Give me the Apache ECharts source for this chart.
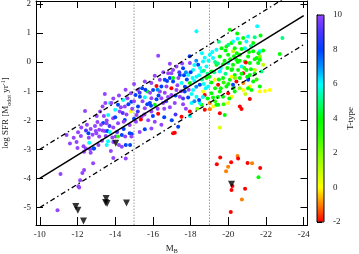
<!DOCTYPE html>
<html><head><meta charset="utf-8">
<script src="https://cdn.jsdelivr.net/npm/echarts@6/dist/echarts.min.js"></script>
<style>html,body{margin:0;padding:0;background:#fff}#c{width:359px;height:254px}</style>
</head><body><div id="c"></div>
<script>
// ---------- data ----------
const xTicks = [-10, -12, -14, -16, -18, -20, -22, -24];
const yTicks = [-5, -4, -3, -2, -1, 0, 1, 2];
const tTicks = [-2, 0, 2, 4, 6, 8, 10];
const colorStops = ['#ff0000','#ff8000','#ffff00','#c0ff00','#80ff00','#30ff00','#00ff00','#00ff80','#00ffff','#0090ff','#0040ff','#4a34ff','#9444ff'];
// [M_B, log SFR, T-type]
const galaxies = [
[-13.45,-1.10,10],[-13.73,-1.41,6],[-13.33,-1.53,10],[-12.40,-1.68,10],[-13.02,-1.85,10],[-13.06,-2.06,10],[-13.36,-2.09,8],[-13.55,-2.01,10],[-12.93,-2.20,10],[-13.15,-2.33,10],[-13.45,-2.37,10],[-13.59,-2.37,8],[-13.71,-2.40,6],[-12.03,-2.41,10],[-12.58,-2.45,8],[-11.42,-2.51,10],[-12.18,-2.54,10],[-13.50,-2.54,10],[-13.15,-2.56,10],[-12.62,-2.77,6],[-13.55,-2.85,6],[-12.85,-2.97,8],[-12.32,-2.89,10],
[-12.97,-2.37,10],[-13.33,-2.35,10],[-13.85,-2.59,10],[-14.03,-2.56,10],[-14.15,-2.56,3],[-14.35,-2.51,8],[-14.53,-2.56,10],[-14.77,-2.45,8],[-14.88,-2.47,8],[-12.44,-2.97,10],[-12.67,-3.00,10],[-12.88,-2.97,8],[-12.35,-3.08,10],[-12.70,-3.12,10],[-13.11,-2.85,10],[-13.62,-2.72,6],[-13.77,-3.06,10],[-14.35,-2.91,10],[-14.56,-2.85,8],[-14.79,-2.85,8],[-14.56,-3.31,10],[-12.83,-3.48,10],[-12.35,-3.71,10],[-12.26,-3.81,10],[-11.10,-3.85,10],[-12.14,-4.06,10],[-12.05,-4.27,10],[-12.09,-4.31,10],[-10.94,-5.09,10],
[-16.28,0.22,10],[-16.90,-0.06,10],[-16.81,-0.38,10],[-17.07,-0.27,10],[-16.10,-0.47,10],[-15.57,-0.67,10],[-16.37,-0.61,10],[-16.63,-0.61,8],[-16.90,-0.55,8],[-17.07,-0.55,4],[-15.92,-0.72,10],[-16.19,-0.82,-2],[-16.45,-0.84,8],[-16.72,-0.84,10],[-16.98,-0.90,-2],[-15.71,-1.01,4],[-15.21,-0.96,10],[-15.43,-0.90,8],[-16.01,-0.96,8],[-16.37,-1.01,10],[-16.63,-1.05,10],[-14.83,-1.07,10],[-15.08,-1.13,8],[-15.31,-1.19,8],[-15.57,-1.21,6],[-15.92,-1.24,10],[-16.19,-1.28,8],[-16.45,-1.24,10],[-14.42,-1.30,6],[-14.65,-1.24,10],[-14.86,-1.36,8],[-15.84,-1.41,8],[-16.10,-1.47,4],[-16.54,-1.41,10],[-13.48,-1.41,10],[-13.80,-1.41,10],[-14.15,-1.47,8],[-14.51,-1.53,10],[-15.21,-1.53,8],[-15.57,-1.59,10],[-15.92,-1.70,10],[-14.83,-1.70,0],[-14.00,-1.64,6],[-14.24,-1.70,10],[-15.13,-1.82,10],[-15.40,-1.88,10],[-13.63,-1.82,6],[-13.89,-1.93,10],[-14.51,-1.99,8],[-15.36,-1.97,-2],[-16.28,-1.78,-2],[-13.54,-2.10,10],[-14.15,-2.10,10],[-14.77,-2.16,10],[-15.92,-2.28,10],[-15.57,-2.31,8],[-14.86,-2.56,10],[-17.07,-2.45,-2],
[-18.31,1.06,6],[-20.08,1.11,4],[-19.37,0.42,6],[-19.64,0.48,4],[-19.90,0.54,4],[-20.17,0.66,4],[-19.02,0.25,6],[-18.66,0.02,6],[-19.19,0.14,6],[-19.55,0.19,4],[-19.99,0.25,4],[-20.25,0.37,1],[-17.96,-0.03,10],[-18.40,-0.09,8],[-18.84,-0.15,6],[-19.37,-0.09,4],[-19.72,-0.07,4],[-19.99,-0.03,6],[-17.25,-0.15,10],[-17.60,-0.21,8],[-18.13,-0.27,6],[-18.58,-0.32,6],[-19.11,-0.32,4],[-19.55,-0.32,6],[-20.17,-0.27,4],[-16.98,-0.38,10],[-17.43,-0.44,8],[-17.87,-0.44,6],[-18.31,-0.50,6],[-18.84,-0.55,4],[-19.28,-0.61,0],[-19.72,-0.55,4],[-20.08,-0.61,4],[-17.07,-0.67,8],[-17.52,-0.72,6],[-17.96,-0.72,4],[-18.49,-0.78,8],[-18.93,-0.84,6],[-19.46,-0.78,-2],[-19.90,-0.84,4],[-20.25,-0.90,4],[-17.25,-0.96,10],[-17.69,-1.01,8],[-18.13,-0.96,6],[-18.66,-1.01,0],[-19.11,-1.07,4],[-19.55,-1.01,4],[-19.99,-1.07,-2],[-16.98,-1.13,10],[-17.43,-1.19,10],[-17.87,-1.22,8],[-18.31,-1.19,6],[-18.75,-1.13,-2],[-19.19,-1.22,4],[-19.72,-1.19,4],[-20.17,-1.19,0],[-17.16,-1.41,10],[-17.60,-1.45,10],[-18.05,-1.41,6],[-18.58,-1.47,4],[-19.02,-1.41,-1],[-19.46,-1.47,4],[-19.99,-1.41,0],[-17.96,-1.70,-2],[-18.75,-1.64,-2],[-19.19,-1.53,0],
[-21.53,1.23,6],[-22.87,0.83,5],[-21.71,0.91,4],[-20.47,0.98,4],[-20.79,0.83,4],[-21.05,0.88,6],[-20.25,0.71,6],[-20.61,0.66,4],[-20.96,0.71,6],[-21.32,0.66,4],[-20.34,0.48,4],[-20.88,0.48,6],[-21.32,0.37,4],[-21.67,0.37,6],[-21.85,0.40,4],[-20.61,0.25,4],[-21.05,0.19,4],[-21.50,0.14,4],[-20.43,0.08,4],[-20.88,0.02,4],[-21.67,0.19,2],[-22.73,0.28,4],[-20.25,-0.09,4],[-20.70,-0.15,6],[-21.14,-0.03,4],[-21.58,-0.03,4],[-21.85,-0.09,1],[-21.67,0.08,4],[-20.52,-0.27,4],[-20.96,-0.27,4],[-21.41,-0.27,1],[-20.34,-0.44,4],[-20.79,-0.38,-2],[-21.14,-0.44,4],[-21.76,-0.32,5],[-20.93,-0.01,-2],[-20.17,-0.50,0],[-20.61,-0.55,4],[-21.05,-0.61,8],[-20.43,-0.67,-2],[-20.79,-0.72,-1],[-21.32,-0.67,4],[-20.25,-0.78,8],[-21.14,-0.84,0],[-21.67,-0.84,4],[-20.79,-0.96,0],[-21.05,-0.90,4],[-20.34,-1.01,4],[-21.23,-0.96,4],[-21.67,-1.01,0],[-21.94,-0.99,0],[-22.20,-0.96,0],[-21.14,-1.27,-2],[-20.61,-1.53,-2],[-20.70,-1.61,-2],
[-19.37,-1.47,4],[-19.02,-1.62,-1],[-19.55,-1.76,-2],[-19.81,-1.82,4],[-19.55,-2.25,0.5],[-17.52,-1.88,-2],[-17.34,-2.22,8],[-17.16,-2.43,-2],[-17.96,-1.85,6],[-18.49,-1.41,6],
[-19.57,-3.28,-2],[-20.49,-3.23,-1],[-20.52,-3.31,-2],[-19.39,-3.51,-2],[-20.15,-3.44,-2],[-21.02,-3.47,-2],[-21.26,-3.48,-1],[-19.99,-3.60,-1],[-19.88,-3.75,-1],[-21.69,-3.64,-2],[-21.60,-3.96,4],[-20.22,-4.26,-2],[-20.17,-4.40,-2],[-20.89,-4.35,-2],[-20.72,-4.72,-1],[-20.13,-5.15,-2],
[-14.30,-1.55,10],[-14.70,-1.45,8],[-15.00,-1.35,10],[-15.45,-1.35,10],[-15.70,-1.45,8],[-16.30,-1.15,8],[-16.80,-1.20,10],[-16.60,-1.60,10],[-16.00,-1.85,8],[-15.75,-2.00,10],[-15.10,-2.05,10],[-14.60,-1.80,10],[-14.00,-1.90,8],[-13.90,-2.25,10],[-14.45,-2.30,8],[-15.30,-2.40,10],[-16.10,-2.05,10],[-16.60,-1.90,8],[-16.90,-1.55,10],[-17.00,-2.00,8],[-15.00,-0.75,10],[-15.60,-0.95,8],[-16.55,-0.35,10],[-17.30,-0.80,10],[-14.20,-1.15,10],[-13.90,-1.25,10],[-14.55,-0.95,10],[-13.20,-1.70,10],[-13.00,-2.45,10],[-12.70,-2.30,10],[-12.50,-2.15,10],[-12.20,-2.25,10],[-11.80,-2.60,10],[-11.60,-2.80,10],[-12.00,-2.95,10],[-13.30,-2.70,10],[-14.20,-2.85,10],[-13.90,-3.30,10],
[-17.35,-0.55,10],[-17.80,-0.60,8],[-18.20,-0.65,6],[-18.60,-0.60,5],[-19.00,-0.50,4],[-19.50,-0.60,4],[-19.85,-0.40,5],[-17.70,-0.85,8],[-18.05,-1.10,6],[-18.45,-1.30,8],[-18.90,-1.25,4],[-19.30,-0.90,4],[-19.75,-0.70,3],[-20.00,-0.75,4],[-18.20,-0.10,6],[-18.70,-0.30,5],[-19.30,0.00,5],[-19.80,0.05,4],[-18.95,0.05,6],[-18.45,-0.45,6],[-17.50,-1.00,10],[-17.90,-0.95,10],[-18.80,-0.90,6],[-19.45,-1.20,4],[-17.75,-1.60,10],[-18.35,-1.60,2],[-18.00,-0.35,8],[-17.55,-0.05,10],[-19.15,0.35,6],[-19.60,-0.20,6],[-20.05,-1.25,4],[-19.85,0.40,4],[-18.60,0.30,6],[-17.95,0.20,8],[-20.20,-0.25,4],[-20.50,0.00,4],[-20.35,-0.55,2],[-20.60,-0.90,2],[-20.45,0.30,4],[-21.00,-0.50,4],[-21.40,0.10,4],[-20.10,0.10,4],
[-20.70,0.45,4],[-21.20,0.55,5],[-20.50,0.80,6],[-21.40,-0.40,4],[-20.90,-1.10,1],[-21.50,-0.60,3],
[-12.80,-2.50,10],[-13.25,-2.15,10],[-13.70,-2.20,9],[-12.60,-2.60,10],[-13.90,-2.75,10],[-12.45,-2.35,9],[-11.95,-2.75,10],[-13.40,-1.85,10],[-14.45,-2.05,10],[-14.10,-2.40,9],
[-15.20,-1.70,9],[-15.55,-1.80,10],[-15.90,-1.50,8],[-16.25,-1.60,10],[-16.70,-1.35,9],[-16.25,-0.95,7],[-15.85,-1.05,10],[-15.30,-1.05,9],[-14.90,-1.60,10],[-14.40,-1.75,9],[-15.00,-1.95,8],[-16.45,-2.15,10],[-17.20,-1.80,9],[-17.20,-1.15,8],[-16.75,-0.65,8],[-17.40,-0.35,9],
[-17.75,-0.35,7],[-18.10,-0.55,6],[-18.50,-0.20,6],[-18.90,-0.40,5],[-19.25,-0.35,5],[-19.45,-0.05,5],[-18.75,0.15,6],[-18.30,0.05,7],[-17.65,-0.45,8],[-18.30,-0.85,7],[-18.70,-0.75,6],[-19.10,-0.70,4],[-19.60,-0.90,4],[-17.60,-1.25,9],[-18.20,-1.35,7],[-18.65,-1.20,6],[-19.30,-1.35,3],[-19.75,-1.45,3],[-19.95,-0.20,4],[-20.30,0.20,4],[-20.00,0.60,5],[-19.50,0.70,5],[-20.60,0.05,4],[-20.85,-0.20,3],[-21.20,-0.25,4],[-20.70,-0.40,4],[-21.60,0.30,4],[-21.10,0.35,4],[-21.40,0.85,5]
];
// upper limits [M_B, log SFR]
const upperLimits = [[-11.91,-4.96],[-12.02,-5.09],[-12.32,-5.46],[-13.52,-4.69],[-13.49,-4.83],[-13.57,-4.86],[-14.60,-4.84],[-14.03,-2.79],[-20.17,-4.20]];
// relation lines
const fitX = [-10, -24];
const fitY = [-4, 1.6];
const upperY = [-3, 2.6];
const lowerY = [-5, 0.6];
const cutX = [-15, -19];
const xRange = [-24.2, -9.8];
const yRange = [-5.6, 2.1];

// ---------- chart ----------
const FONT = '"Liberation Serif", "DejaVu Serif", serif';
const TXT = '#222';
const chart = echarts.init(document.getElementById('c'));
const pair = (xs, ys) => xs.map((x, i) => [x, ys[i]]);
const axisLbl = (vals) => ({customValues: vals, fontFamily: FONT, fontSize: 9, color: TXT, margin: 5});
const rich = {
  n: {fontFamily: FONT, fontSize: 9, color: TXT, lineHeight: 12, verticalAlign: 'middle'},
  sub: {fontFamily: FONT, fontSize: 6, color: TXT, lineHeight: 12, verticalAlign: 'bottom'},
  sup: {fontFamily: FONT, fontSize: 6, color: TXT, lineHeight: 12, verticalAlign: 'top'}
};
const option = {
  animation: false,
  backgroundColor: '#fff',
  grid: [
    {left: 36, top: 1, width: 271.5, height: 224, outerBoundsMode: 'none', containLabel: false},
    {left: 317, top: 15, width: 7, height: 207, show: true, borderColor: '#000', borderWidth: 1, backgroundColor: 'transparent', z: 10, outerBoundsMode: 'none', containLabel: false}
  ],
  xAxis: [
    {gridIndex: 0, type: 'value', min: xRange[0], max: xRange[1], inverse: true, position: 'bottom',
     axisLine: {onZero: false, lineStyle: {color: '#000', width: 1}},
     axisTick: {inside: true, length: 8, customValues: xTicks, lineStyle: {color: '#000'}},
     axisLabel: axisLbl(xTicks), splitLine: {show: false},
     name: '{n|M}{sub|B}', nameLocation: 'middle', nameGap: 16, nameTextStyle: {rich: rich}},
    {gridIndex: 0, type: 'value', min: xRange[0], max: xRange[1], inverse: true, position: 'top',
     axisLine: {onZero: false, lineStyle: {color: '#000', width: 1}},
     axisTick: {inside: true, length: 7, customValues: xTicks, lineStyle: {color: '#000'}},
     axisLabel: {show: false}, splitLine: {show: false}},
    {gridIndex: 1, type: 'value', min: 0, max: 1, show: false}
  ],
  yAxis: [
    {gridIndex: 0, type: 'value', min: yRange[0], max: yRange[1], position: 'left',
     axisLine: {onZero: false, lineStyle: {color: '#000', width: 1}},
     axisTick: {inside: true, length: 7, customValues: yTicks, lineStyle: {color: '#000'}},
     axisLabel: axisLbl(yTicks), splitLine: {show: false},
     name: '{n|log SFR [M}{sub|odot}{n| yr}{sup|-1}{n|]}', nameLocation: 'middle', nameRotate: 90, nameGap: 24, nameTextStyle: {rich: rich}},
    {gridIndex: 0, type: 'value', min: yRange[0], max: yRange[1], position: 'right',
     axisLine: {onZero: false, lineStyle: {color: '#000', width: 1}},
     axisTick: {inside: true, length: 7, customValues: yTicks, lineStyle: {color: '#000'}},
     axisLabel: {show: false}, splitLine: {show: false}},
    {gridIndex: 1, type: 'value', min: -2, max: 10, interval: 2, position: 'right',
     axisLine: {show: true, lineStyle: {color: '#000'}},
     axisTick: {show: true, inside: false, length: 5, lineStyle: {color: '#000'}},
     axisLabel: {fontFamily: FONT, fontSize: 9, color: TXT, margin: 9},
     splitLine: {show: false},
     name: 'T-type', nameLocation: 'middle', nameRotate: 90, nameGap: 22,
     nameTextStyle: {fontFamily: FONT, fontSize: 9, color: TXT}}
  ],
  visualMap: {
    type: 'continuous', min: -2, max: 10, dimension: 2, seriesIndex: 0,
    inRange: {color: colorStops}, calculable: false, hoverLink: false,
    left: 317, top: 15, itemWidth: 7, itemHeight: 207, padding: 0, text: null, orient: 'vertical'
  },
  series: [
    {type: 'scatter', xAxisIndex: 0, yAxisIndex: 0, data: galaxies, symbolSize: 4, z: 2,
     itemStyle: {opacity: 1}, encode: {x: 0, y: 1}},
    {type: 'scatter', xAxisIndex: 0, yAxisIndex: 0, data: upperLimits, symbol: 'triangle', symbolRotate: 180,
     symbolSize: [7, 7], itemStyle: {color: '#000'}, z: 5},
    {type: 'line', xAxisIndex: 0, yAxisIndex: 0, data: pair(fitX, fitY), showSymbol: false, symbol: 'none', z: 4,
     lineStyle: {color: '#000', width: 1.5}},
    {type: 'line', xAxisIndex: 0, yAxisIndex: 0, data: pair(fitX, upperY), showSymbol: false, symbol: 'none', z: 4,
     lineStyle: {color: '#000', width: 1.3, type: [5, 3, 1.5, 3]}},
    {type: 'line', xAxisIndex: 0, yAxisIndex: 0, data: pair(fitX, lowerY), showSymbol: false, symbol: 'none', z: 4,
     lineStyle: {color: '#000', width: 1.3, type: [5, 3, 1.5, 3]}},
    {type: 'line', xAxisIndex: 0, yAxisIndex: 0, data: [[cutX[0], yRange[0]], [cutX[0], yRange[1]]], symbol: 'none', z: 1,
     lineStyle: {color: '#999', width: 1, type: [1.5, 1.5]}},
    {type: 'line', xAxisIndex: 0, yAxisIndex: 0, data: [[cutX[1], yRange[0]], [cutX[1], yRange[1]]], symbol: 'none', z: 1,
     lineStyle: {color: '#999', width: 1, type: [1.5, 1.5]}}
  ]
};
chart.setOption(option);
</script></body></html>
